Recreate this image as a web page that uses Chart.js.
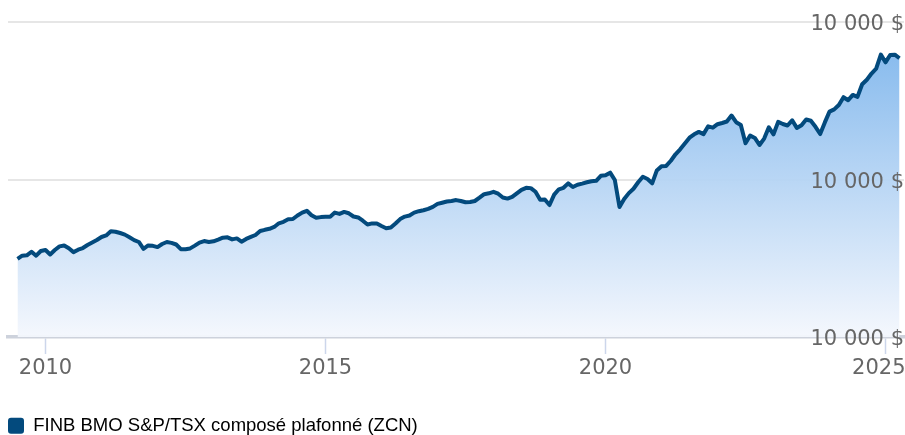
<!DOCTYPE html>
<html>
<head>
<meta charset="utf-8">
<title>ZCN</title>
<script src="https://cdn.jsdelivr.net/npm/chart.js@4.4.1/dist/chart.umd.min.js"></script>
<style>
  html, body { margin: 0; padding: 0; background: #fff; }
</style>
</head>
<body>
<canvas id="myChart" width="905" height="435"></canvas>
<script>
const graph = document.querySelector("#myChart");

// Valeur d'un placement de 10 000 $, fin de mois, de juin 2009 à mars 2025
const premierMois = 2009.5;
const valeurs = [
  9930, 10325, 10375, 10830, 10325, 10920, 11050, 10475, 11050, 11505,
  11620, 11265, 10780, 11085, 11300, 11680, 12000, 12320, 12700, 12900,
  13420, 13370, 13205, 13000, 12670, 12305, 12065, 11200, 11620, 11580,
  11415, 11810, 12065, 11950, 11745, 11150, 11150, 11250, 11605, 11990,
  12180, 12065, 12150, 12370, 12610, 12660, 12395, 12520, 12100, 12455,
  12710, 12950, 13460, 13610, 13740, 13970, 14440, 14630, 14945, 14985,
  15430, 15795, 16025, 15455, 15135, 15225, 15275, 15275, 15795, 15630,
  15885, 15710, 15300, 15185, 14770, 14285, 14425, 14410, 14095, 13815,
  13905, 14410, 14970, 15290, 15430, 15795, 15975, 16100, 16265, 16520,
  16900, 17055, 17205, 17280, 17385, 17270, 17105, 17140, 17270, 17690,
  18130, 18245, 18440, 18195, 17715, 17575, 17790, 18235, 18680, 18945,
  18905, 18440, 17420, 17460, 16760, 18080, 18755, 18945, 19515, 19045,
  19340, 19480, 19645, 19785, 19835, 20470, 20530, 20865, 19935, 16510,
  17525, 18270, 18830, 19655, 20355, 20065, 19515, 21155, 21690, 21725,
  22385, 23200, 23835, 24570, 25305, 25740, 26045, 25765, 26755, 26580,
  27020, 27175, 27365, 28125, 27275, 26920, 24595, 25585, 25280, 24380,
  25195, 26630, 25740, 27315, 27045, 26855, 27515, 26550, 26895, 27620,
  27455, 26690, 25775, 27250, 28620, 28900, 29460, 30450, 30070, 30740,
  30500, 32090, 32670, 33450, 34070, 35860, 34880, 35810, 35850, 35400
];

// Axe des années
const anneesTicks = [2010, 2015, 2020, 2025];
// le dernier libellé est décalé pour rester dans le canevas
const anneesLabels = ["2010", "2015", "2020", "2025  "];

// Axe des montants
const montantsTicks = [0, 20000, 40000];
const montantsLabels = ["10 000 $", "10 000 $", "10 000 $"];

const nomSerie = "FINB BMO S&P/TSX composé plafonné (ZCN)";
const couleurLigne = "#034a7d";

let puntos = valeurs.map((v, i) => ({ x: premierMois + i / 12, y: v }));

const degrade = (context) => {
  const { ctx, chartArea } = context.chart;
  if (!chartArea) return null;
  const g = ctx.createLinearGradient(0, chartArea.top, 0, chartArea.bottom);
  g.addColorStop(0, "rgba(118, 177, 235, 0.95)");
  g.addColorStop(1, "rgba(244, 247, 253, 0.95)");
  return g;
};

const fontAxes = { family: "DejaVu Sans", size: 21 };

const fixerTicks = (valeursTicks) => (scale) => {
  scale.ticks = valeursTicks.map((v) => ({ value: v }));
};

const graphZCN = new Chart(graph, {
  type: "line",
  data: {
    datasets: [
      {
        label: nomSerie,
        data: puntos,
        borderColor: couleurLigne,
        borderWidth: 4,
        borderJoinStyle: "round",
        pointRadius: 0,
        tension: 0,
        fill: "origin",
        backgroundColor: degrade,
      },
    ],
  },
  options: {
    responsive: false,
    animation: false,
    layout: {
      padding: { left: 8, top: 22, right: 1, bottom: -10 },
    },
    scales: {
      x: {
        type: "linear",
        min: 2010 - 37.5 / 56,
        max: 2010 + (904 - 45.5) / 56,
        afterBuildTicks: fixerTicks(anneesTicks),
        afterFit: (scale) => {
          scale.height = 79.5;
          scale.paddingLeft = 0;
          scale.paddingRight = 0;
        },
        grid: {
          drawOnChartArea: false,
          drawTicks: true,
          tickLength: 17,
          tickColor: "#ccd6eb",
          tickWidth: 1.5,
        },
        border: { color: "#cdd2dc", width: 3.5 },
        ticks: {
          font: fontAxes,
          color: "#666",
          padding: 2,
          maxRotation: 0,
          autoSkip: false,
          callback: (v, i) => anneesLabels[i],
        },
      },
      y: {
        position: "right",
        min: 0,
        max: 40000,
        afterBuildTicks: fixerTicks(montantsTicks),
        grid: { color: "#e6e6e6", lineWidth: 2, drawTicks: false },
        border: { display: false },
        ticks: {
          // libellés par-dessus la zone remplie
          z: 1,
          mirror: true,
          padding: 0,
          labelOffset: 3,
          font: fontAxes,
          color: "#666",
          callback: (v, i) => montantsLabels[i],
        },
      },
    },
    plugins: {
      tooltip: { enabled: false },
      legend: {
        position: "bottom",
        align: "start",
        labels: {
          boxWidth: 16,
          boxHeight: 16,
          padding: 0,
          useBorderRadius: true,
          borderRadius: 3,
          color: "#333",
          font: { family: "Liberation Sans", size: 18.5 },
          generateLabels: () => [
            {
              text: nomSerie,
              fillStyle: couleurLigne,
              strokeStyle: couleurLigne,
              lineWidth: 0,
              borderRadius: 3,
              hidden: false,
              datasetIndex: 0,
            },
          ],
        },
      },
    },
  },
});
</script>
</body>
</html>
